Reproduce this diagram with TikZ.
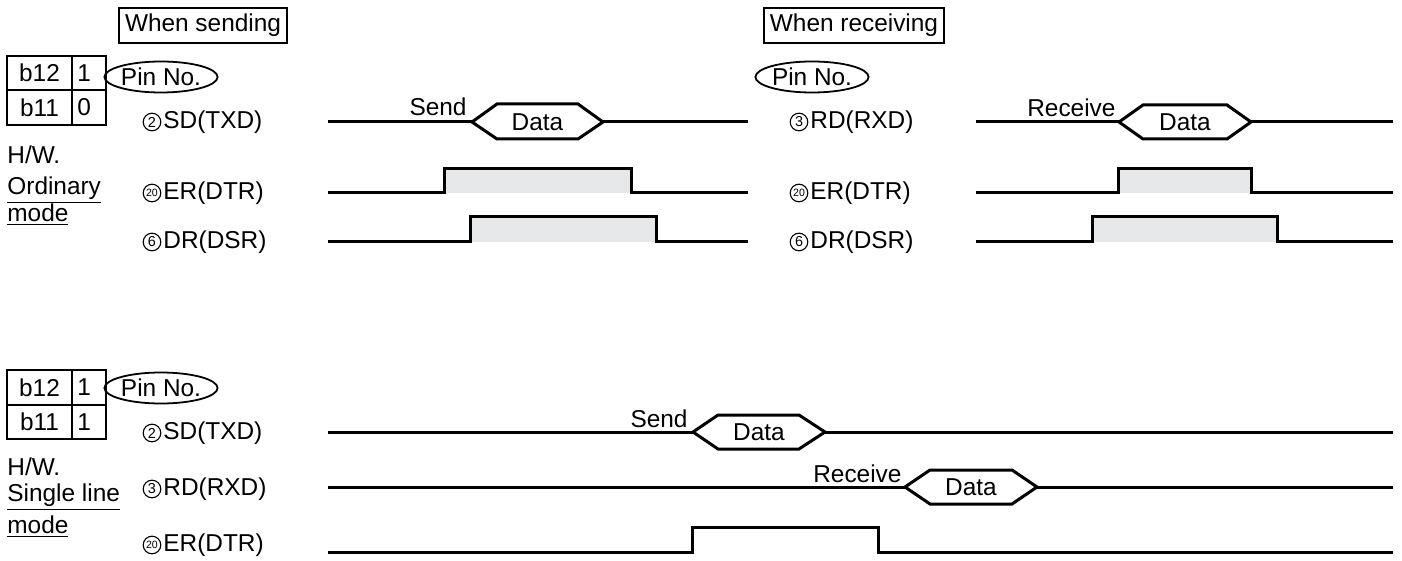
\documentclass[tikz,border=0pt]{standalone}
\usepackage{fontspec}
\setmainfont{Liberation Sans}
\usepackage{xcolor}
\usepackage{tikz}
\usetikzlibrary{shapes.geometric}

\definecolor{highfill}{RGB}{230,231,232}

\begin{document}
\begin{tikzpicture}[x=0.5pt,y=-0.5pt,
    txt/.style={inner sep=0pt,font=\fontsize{12.2}{14}\selectfont},
    sig/.style={black,line width=1.5pt},
    frame/.style={black,line width=0.9pt},
    pinc/.style={circle,draw,line width=0.55pt,minimum size=8.8pt,inner sep=0pt,font=\fontsize{7.2}{8}\selectfont},
    pincc/.style={pinc,font=\fontsize{5.3}{6}\selectfont},
    pinno/.style={ellipse,draw,line width=0.9pt,minimum width=46pt,minimum height=15.5pt,inner sep=0pt,font=\fontsize{12.2}{14}\selectfont}]
\useasboundingbox (0,0) rectangle (1402,561);

% headings
\node[txt,draw,line width=0.8pt,inner xsep=3pt,minimum height=17.5pt] (sendhd) at (203,25.5) {When sending};
\node[txt,draw,line width=0.8pt,inner xsep=3pt,minimum height=17.5pt] (recvhd) at (854,25.5) {When receiving};

% b12/b11 tables
\draw[frame] (7,56) rectangle (106,125) (7,90) -- (106,90) (72,56) -- (72,125);
\node[txt] (b12a) at (39.5,73) {b12};
\node[txt,anchor=west] (v12a) at (77,73) {1};
\node[txt] (b11a) at (39.5,107.5) {b11};
\node[txt,anchor=west] (v11a) at (77,107.5) {0};
\draw[frame] (7,370) rectangle (106,439) (7,405) -- (106,405) (72,370) -- (72,439);
\node[txt] (b12b) at (39.5,387.5) {b12};
\node[txt,anchor=west] (v12b) at (77,387.5) {1};
\node[txt] (b11b) at (39.5,422) {b11};
\node[txt,anchor=west] (v11b) at (77,422) {1};

\node[txt,anchor=west] (hwa) at (7,155) {H/W.};
\node[txt,anchor=west] (orda) at (7,190) {\underline{Ordinary}};
\node[txt,anchor=west] (modea) at (7,215) {\underline{mode}};
\node[txt,anchor=west] (hwb) at (7,467) {H/W.};
\node[txt,anchor=west] (singb) at (7,497) {\underline{Single line}};
\node[txt,anchor=west] (modeb) at (7,527) {\underline{mode}};

% pin names
\node[pinno] (pina) at (161,77) {Pin No.};
\node[pinno] (pinr) at (812,77) {Pin No.};
\node[pinno] (pinb) at (161,388) {Pin No.};

\node[pinc] (n2a) at (152,122) {2};
\node[txt,anchor=west] (sda) at (163,122) {SD(TXD)};
\node[pincc] (n20a) at (152,193) {20};
\node[txt,anchor=west] (era) at (163,193) {ER(DTR)};
\node[pinc] (n6a) at (152,242) {6};
\node[txt,anchor=west] (dra) at (163,242) {DR(DSR)};

\node[pinc] (n3r) at (799,122) {3};
\node[txt,anchor=west] (rdr) at (810,122) {RD(RXD)};
\node[pincc] (n20r) at (799,193) {20};
\node[txt,anchor=west] (err) at (810,193) {ER(DTR)};
\node[pinc] (n6r) at (799,242) {6};
\node[txt,anchor=west] (drr) at (810,242) {DR(DSR)};

\node[pinc] (n2b) at (152,433) {2};
\node[txt,anchor=west] (sdb) at (163,433) {SD(TXD)};
\node[pinc] (n3b) at (152,489) {3};
\node[txt,anchor=west] (rdb) at (163,489) {RD(RXD)};
\node[pincc] (n20b) at (152,545) {20};
\node[txt,anchor=west] (erb) at (163,545) {ER(DTR)};

% when sending
\fill[highfill] (444,169) rectangle (631,193);
\fill[highfill] (470,217) rectangle (656,242);
\draw[sig] (328,122) -- (472,122) node[txt,anchor=base east] (senda) at (468,116) {Send};
\draw[sig] (472,122) -- (497,104) -- (578,104) -- (603,122) -- (578,139) -- (497,139) -- cycle;
\node[txt] (dataa) at (537.5,122) {Data};
\draw[sig] (603,122) -- (748,122);
\draw[sig] (328,193) -- (444,193) -- (444,169) -- (631,169) -- (631,193) -- (748,193);
\draw[sig] (328,242) -- (470,242) -- (470,217) -- (656,217) -- (656,242) -- (748,242);

% when receiving
\fill[highfill] (1118,169) rectangle (1251,193);
\fill[highfill] (1092,217) rectangle (1277,242);
\draw[sig] (976,122) -- (1119,122) node[txt,anchor=base east] (recvr) at (1117,117) {Receive};
\draw[sig] (1119,122) -- (1143,105) -- (1227,105) -- (1251,122) -- (1227,139) -- (1143,139) -- cycle;
\node[txt] (datar) at (1185,122) {Data};
\draw[sig] (1251,122) -- (1393,122);
\draw[sig] (976,193) -- (1118,193) -- (1118,169) -- (1251,169) -- (1251,193) -- (1393,193);
\draw[sig] (976,242) -- (1092,242) -- (1092,217) -- (1277,217) -- (1277,242) -- (1393,242);

% single line mode
\draw[sig] (328,432) -- (693,432) node[txt,anchor=base east] (sendb) at (689,427) {Send};
\draw[sig] (693,432) -- (718,415) -- (799,415) -- (825,432) -- (799,449) -- (718,449) -- cycle;
\node[txt] (datab) at (759,432) {Data};
\draw[sig] (825,432) -- (1393,432);
\draw[sig] (328,487) -- (905,487) node[txt,anchor=base east] (recvb) at (903,482) {Receive};
\draw[sig] (905,487) -- (930,470) -- (1012,470) -- (1037,487) -- (1012,504) -- (930,504) -- cycle;
\node[txt] (datac) at (971,487) {Data};
\draw[sig] (1037,487) -- (1393,487);
\draw[sig] (328,552) -- (692,552) -- (692,527) -- (878,527) -- (878,552) -- (1393,552);
\end{tikzpicture}
\end{document}
